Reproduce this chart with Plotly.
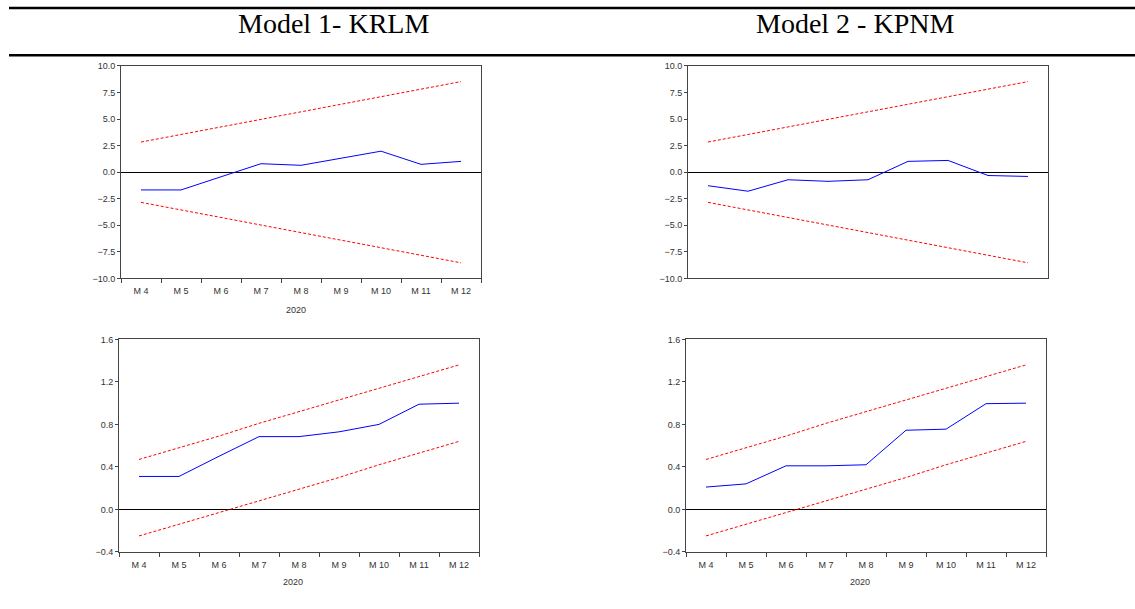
import plotly.graph_objects as go

# ---------------- data ----------------
months = ["M 4", "M 5", "M 6", "M 7", "M 8", "M 9", "M 10", "M 11", "M 12"]

krlm_cusum = [-1.67, -1.67, -0.43, 0.80, 0.65, 1.30, 1.98, 0.74, 1.02]
kpnm_cusum = [-1.27, -1.79, -0.71, -0.86, -0.71, 1.02, 1.11, -0.31, -0.40]
cusum_upper = [2.84, 3.56, 4.27, 4.98, 5.69, 6.40, 7.11, 7.82, 8.53]
cusum_lower = [-2.84, -3.56, -4.27, -4.98, -5.69, -6.40, -7.11, -7.82, -8.53]

krlm_cusumsq = [0.31, 0.31, 0.50, 0.685, 0.685, 0.73, 0.80, 0.99, 1.00]
kpnm_cusumsq = [0.21, 0.24, 0.41, 0.41, 0.42, 0.745, 0.755, 0.995, 1.00]
sq_upper = [0.47, 0.58, 0.69, 0.81, 0.92, 1.03, 1.14, 1.25, 1.36]
sq_lower = [-0.25, -0.14, -0.03, 0.08, 0.19, 0.30, 0.42, 0.53, 0.64]

cusum_ticks = [-10, -7.5, -5, -2.5, 0, 2.5, 5, 7.5, 10]
sq_ticks = [-0.4, 0.0, 0.4, 0.8, 1.2, 1.6]

titles = ["Model 1- KRLM", "Model 2 - KPNM"]
year_label = "2020"

# ---------------- layout helpers ----------------
W, H = 1135, 609


def px(x):
    return x / W


def py(y):
    return 1 - y / H


panels = [
    # (xaxis, yaxis, left, right, top, bottom, series, upper, lower, yrange, ticks, show_x)
    ("x", "y", 121, 481, 62, 278, krlm_cusum, cusum_upper, cusum_lower, [-10, 10], cusum_ticks, True),
    ("x2", "y2", 688, 1048, 62, 278, kpnm_cusum, cusum_upper, cusum_lower, [-10, 10], cusum_ticks, False),
    ("x3", "y3", 119, 479, 340, 556, krlm_cusumsq, sq_upper, sq_lower, [-0.4, 1.6], sq_ticks, True),
    ("x4", "y4", 686, 1046, 340, 556, kpnm_cusumsq, sq_upper, sq_lower, [-0.4, 1.6], sq_ticks, True),
]

fig = go.Figure()
tick_font = dict(family="Liberation Sans, Arial, sans-serif", size=9, color="#333333")
frame_col = "#444444"

for i, (xa, ya, l, r, t, b, series, up, lo, yr, ticks, show_x) in enumerate(panels):
    for vals, col, dash in [(up, "#FF0000", "3px,2px"), (lo, "#FF0000", "3px,2px"), (series, "#0000FF", "solid")]:
        fig.add_trace(go.Scatter(
            x=months, y=vals, mode="lines", xaxis=xa, yaxis=ya,
            line=dict(color=col, width=1, dash=dash), showlegend=False, hoverinfo="skip",
        ))
    suffix = "" if i == 0 else str(i + 1)
    fig.layout["xaxis" + suffix] = dict(
        domain=[px(l), px(r)], anchor=ya, type="category", range=[-0.5, 8.5],
        showline=True, mirror=True, linecolor=frame_col, linewidth=1,
        showgrid=False, zeroline=False,
        ticks="outside" if show_x else "", tickson="boundaries", ticklen=4,
        tickcolor=frame_col, showticklabels=show_x, tickfont=tick_font,
        ticklabelstandoff=4,
    )
    fig.layout["yaxis" + suffix] = dict(
        domain=[py(b), py(t)], anchor=xa, range=yr,
        tickvals=ticks, tickformat=".1f",
        showline=True, mirror=True, linecolor=frame_col, linewidth=1,
        showgrid=False, zeroline=True, zerolinecolor="#000000", zerolinewidth=1,
        ticks="outside", ticklen=3, tickcolor=frame_col, tickfont=tick_font,
    )

title_font = dict(family="Liberation Serif, Times New Roman, serif", size=28, color="#000000")
annotations = [
    dict(text=titles[0], x=px(333), y=py(19), xref="paper", yref="paper", showarrow=False,
         xanchor="center", yanchor="middle", font=title_font),
    dict(text=titles[1], x=px(855), y=py(19), xref="paper", yref="paper", showarrow=False,
         xanchor="center", yanchor="middle", font=title_font),
]
for (xc, yc) in [(296, 310), (293, 587), (860, 587)]:
    annotations.append(dict(text=year_label, x=px(xc), y=py(yc), xref="paper", yref="paper",
                            showarrow=False, xanchor="center", yanchor="middle", font=tick_font))

shapes = [
    dict(type="line", xref="paper", yref="paper", x0=px(9), x1=1, y0=py(3), y1=py(3),
         line=dict(color="#000000", width=2.5)),
    dict(type="line", xref="paper", yref="paper", x0=px(9), x1=1, y0=py(51), y1=py(51),
         line=dict(color="#000000", width=2.5)),
]

fig.update_layout(
    width=W, height=H, autosize=False,
    margin=dict(l=0, r=0, t=0, b=0),
    paper_bgcolor="#FFFFFF", plot_bgcolor="#FFFFFF",
    annotations=annotations, shapes=shapes, showlegend=False,
)

fig.write_html(
    "out.html",
    config={"displayModeBar": False},
    post_script="document.body.style.margin='0';document.body.style.padding='0';"
                "document.body.style.overflow='hidden';",
)
